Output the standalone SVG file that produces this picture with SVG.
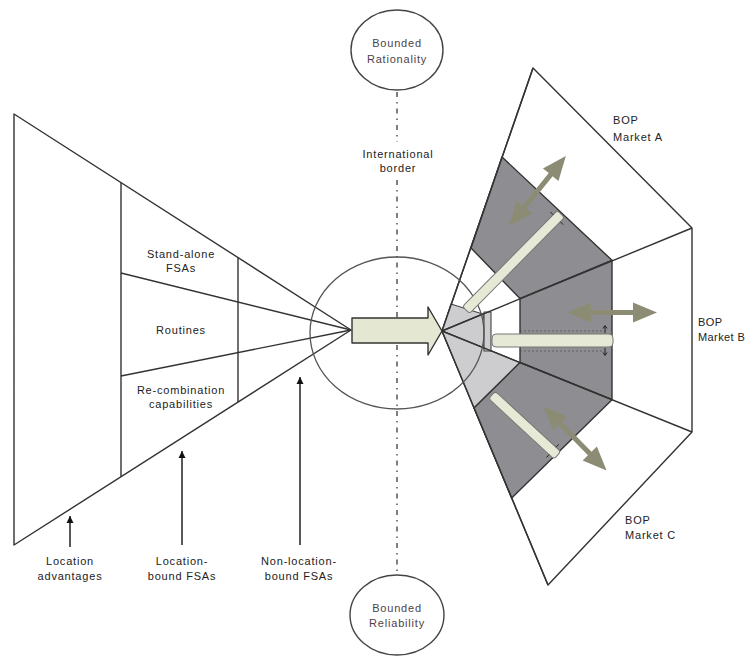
<svg xmlns="http://www.w3.org/2000/svg" width="747" height="657" viewBox="0 0 747 657">
<defs>
<style>
.ln{stroke:#333;stroke-width:1.4;fill:none;stroke-linejoin:round}
.t{font-family:"Liberation Sans",Arial,sans-serif;font-size:11px;fill:#222;letter-spacing:0.8px}
.c{text-anchor:middle}
.bnd{fill:#4d3f4a}
.dark{fill:#8e8e92;stroke:#333;stroke-width:1.4;stroke-linejoin:round}
.light{fill:#cdcdcf;stroke:#444;stroke-width:1.1;stroke-linejoin:round}
.bar{fill:#e6e9d5;stroke:#777;stroke-width:1}
.dbl{fill:#8b8c73}
.tick{stroke:#222;stroke-width:1;fill:none}
.arr{stroke:#222;stroke-width:1.5;fill:none}
</style>
<marker id="ah" markerWidth="8" markerHeight="8" refX="7" refY="4" orient="auto" markerUnits="userSpaceOnUse"><path d="M0,0.5 L7,4 L0,7.5 Z" fill="#111"/></marker>
<path id="dblArrow" d="M-45,0 L-21,-10 L-21,-2.5 L21,-2.5 L21,-10 L45,0 L21,10 L21,2.5 L-21,2.5 L-21,10 Z"/>
</defs>
<rect width="747" height="657" fill="#fff"/>

<g id="connectors">
<line x1="397" y1="92" x2="397" y2="142" stroke="#555" stroke-width="1.5" stroke-dasharray="5 5 1.5 5"/>
<line x1="397" y1="180" x2="397" y2="575" stroke="#555" stroke-width="1.5" stroke-dasharray="5 5 1.5 5"/>
<line class="arr" x1="70" y1="547" x2="70" y2="516" marker-end="url(#ah)"/>
<line class="arr" x1="182" y1="545" x2="182" y2="451" marker-end="url(#ah)"/>
<line class="arr" x1="300" y1="545" x2="300" y2="377" marker-end="url(#ah)"/>
</g>

<g id="location-funnel">
<polygon class="ln" points="14,114 351,330 14,545"/>
<line class="ln" x1="121" y1="182.6" x2="121" y2="476.7"/>
<line class="ln" x1="238" y1="257.6" x2="238" y2="402.1"/>
<line class="ln" x1="121" y1="273" x2="351" y2="330"/>
<line class="ln" x1="121" y1="376" x2="351" y2="330"/>
<text class="t c" x="181" y="258">Stand-alone</text>
<text class="t c" x="181" y="272">FSAs</text>
<text class="t c" x="181" y="334">Routines</text>
<text class="t c" x="181" y="394">Re-combination</text>
<text class="t c" x="181" y="408">capabilities</text>
</g>

<g id="bop-markets">
<polygon class="ln" fill="#fff" points="442,331 533,68 692,228 692,432 548,585"/>
<path class="light" d="M442,331 L451,304 L482.6,314.1 Z"/>
<path class="light" d="M442,331 L482.6,314.1 A44,44 0 0 1 482.8,347.5 Z"/>
<path class="light" d="M442,331 L520,362.5 L474,408 Z"/>
<rect class="light" x="484" y="312" width="7" height="39"/>
<path class="dark" d="M502,157 L612,260.3 L520,298.6 L471,248 Z"/>
<path class="dark" d="M520,298.6 L612,260.3 L612,399.7 L520,362.5 Z"/>
<path class="dark" d="M520,362.5 L612,399.7 L511.7,498 L474,408 Z"/>
<line class="ln" x1="442" y1="331" x2="692" y2="228"/>
<line class="ln" x1="442" y1="331" x2="692" y2="432"/>
<line class="ln" x1="442" y1="331" x2="533" y2="68"/>
<line class="ln" x1="442" y1="331" x2="548" y2="585"/>
<text class="t" x="613" y="124">BOP</text>
<text class="t" x="613" y="141">Market A</text>
<text class="t" x="698" y="326" style="letter-spacing:0.4px">BOP</text>
<text class="t" x="698" y="341" style="letter-spacing:0.4px">Market B</text>
<text class="t" x="625" y="524">BOP</text>
<text class="t" x="625" y="539">Market C</text>
</g>

<g id="center-hub">
<ellipse cx="397" cy="333" rx="87" ry="76" fill="none" stroke="#555" stroke-width="1.3"/>
<path d="M352,318 L428,318 L428,307 L442,331 L428,355 L428,343 L352,343 Z" fill="#e4e8d2" stroke="#333" stroke-width="1.4" stroke-linejoin="round"/>
</g>

<g id="market-bars">
<rect class="bar" x="0" y="-5" width="135" height="10" rx="3" transform="translate(466,310) rotate(-45.3)"/>
<path class="tick" d="M560.4,221.8 L563.2,224.6 M553.2,214.8 L550.4,212"/>
<line x1="520" y1="331" x2="604" y2="331" stroke="#555" stroke-width="0.8" stroke-dasharray="2 2"/>
<line x1="520" y1="351" x2="604" y2="351" stroke="#555" stroke-width="0.8" stroke-dasharray="2 2"/>
<rect class="bar" x="492" y="334" width="121" height="13" rx="4"/>
<path class="tick" d="M605,333 L605,326 M603,328.5 L605,325.5 L607,328.5 M605,348 L605,355 M603,352.5 L605,355.5 L607,352.5"/>
<rect class="bar" x="0" y="-5" width="89" height="10" rx="3" transform="translate(492,395) rotate(42.7)"/>
<path class="tick" d="M549.2,454.6 L546.5,457.5 M556,447.2 L558.7,444.3"/>
<use href="#dblArrow" class="dbl" transform="translate(537.5,191) rotate(-51)"/>
<use href="#dblArrow" class="dbl" transform="translate(612,312.5)"/>
<use href="#dblArrow" class="dbl" transform="translate(575,438.5) rotate(45.4)"/>
</g>

<g id="international-border">
<text class="t c" x="398" y="158">International</text>
<text class="t c" x="398" y="172">border</text>
</g>

<g id="bounded-rationality">
<ellipse cx="397" cy="50" rx="46" ry="40" fill="#fff" stroke="#444" stroke-width="1.4"/>
<text class="t c bnd" x="397" y="47">Bounded</text>
<text class="t c bnd" x="397" y="63">Rationality</text>
</g>

<g id="bounded-reliability">
<ellipse cx="397" cy="615" rx="47" ry="40" fill="#fff" stroke="#444" stroke-width="1.4"/>
<text class="t c bnd" x="397" y="612">Bounded</text>
<text class="t c bnd" x="397" y="627">Reliability</text>
</g>

<g id="bottom-labels">
<text class="t c" x="70" y="565">Location</text>
<text class="t c" x="70" y="580">advantages</text>
<text class="t c" x="182" y="565">Location-</text>
<text class="t c" x="182" y="580">bound FSAs</text>
<text class="t c" x="299" y="565">Non-location-</text>
<text class="t c" x="299" y="580">bound FSAs</text>
</g>
</svg>
